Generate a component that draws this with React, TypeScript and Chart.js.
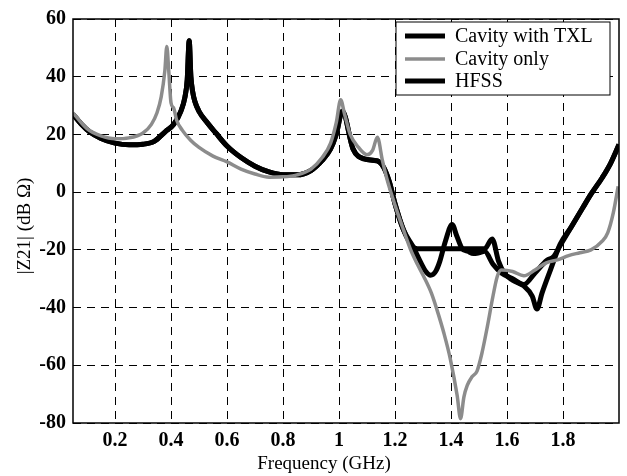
import React, { useEffect, useRef } from "react";
import { Chart, registerables } from "chart.js";

Chart.register(...registerables);

// ---- data ----
const xTicks = [0.2, 0.4, 0.6, 0.8, 1.0, 1.2, 1.4, 1.6, 1.8];
const yTicks = [-80, -60, -40, -20, 0, 20, 40, 60];

const freqTXL = [
  0.05, 0.08, 0.11, 0.15, 0.2, 0.25, 0.3, 0.34, 0.38, 0.41, 0.435, 0.45, 0.458, 0.465, 0.471, 0.477,
  0.485, 0.5, 0.53, 0.56, 0.6, 0.65, 0.7, 0.75, 0.8, 0.85, 0.9, 0.94, 0.97, 0.99, 1.012, 1.05, 1.09,
  1.137, 1.16, 1.18, 1.2, 1.23, 1.26, 1.28, 1.32, 1.36, 1.4, 1.44, 1.48, 1.52, 1.547, 1.57, 1.59,
  1.62, 1.66, 1.69, 1.707, 1.725, 1.755, 1.79, 1.83, 1.87, 1.9, 1.94, 1.97, 2.0,
];
const zTXL = [
  27, 23.5, 20.8, 18.6, 17, 16.4, 16.6, 17.6, 21, 23.5, 28, 33, 39, 52.5, 40, 35,
  31.5, 28, 24, 20.5, 16, 12, 9, 7, 6, 6, 7.5, 11, 15, 20, 28, 15, 11.5,
  10.8, 8.5, 3.5, -4, -13, -18.5, -19.6, -19.6, -19.6, -19.6, -19.6, -19.6, -19.6, -16.2, -24, -28,
  -30.5, -32.5, -36, -40.5, -35, -27, -18, -12, -5.5, -0.7, 5, 10, 16.5,
];

const freqCavity = [
  0.05, 0.1, 0.15, 0.2, 0.25, 0.3, 0.33, 0.35, 0.365, 0.378, 0.385, 0.392, 0.4, 0.41, 0.42, 0.44,
  0.47, 0.5, 0.55, 0.6, 0.65, 0.7, 0.75, 0.8, 0.85, 0.9, 0.94, 0.97, 0.99, 1.006, 1.02, 1.04, 1.07,
  1.1, 1.12, 1.137, 1.155, 1.17, 1.2, 1.23, 1.256, 1.28, 1.303, 1.33, 1.35, 1.375, 1.398, 1.422,
  1.434, 1.446, 1.458, 1.475, 1.493, 1.51, 1.53, 1.55, 1.565, 1.58, 1.62, 1.66, 1.7, 1.74, 1.78,
  1.82, 1.86, 1.9, 1.94, 1.96, 1.98, 1.997,
];
const zCavity = [
  27.5, 22, 19.5, 18.5, 18.8, 20.5, 23.5, 27.5, 33, 42, 50.5, 42, 31, 29, 25, 21.5,
  18, 15.5, 12.5, 10.5, 8, 6.3, 5.2, 5.3, 6, 8, 12, 17, 24, 32, 27, 20, 15.5,
  13, 14.5, 19, 11, 5, -4.5, -13, -20, -25, -29.3, -35, -40.8, -49, -58, -70.5,
  -78.5, -71, -67, -64, -62, -56, -46.5, -36, -29.3, -27, -27.5, -29, -27, -24.5, -23.5,
  -22, -21, -20, -17, -14, -7, 2,
];

const freqHFSS = [
  0.05, 0.08, 0.11, 0.15, 0.2, 0.25, 0.3, 0.34, 0.38, 0.41, 0.435, 0.45, 0.458, 0.465, 0.471, 0.477,
  0.485, 0.5, 0.53, 0.56, 0.6, 0.65, 0.7, 0.75, 0.8, 0.85, 0.9, 0.94, 0.97, 0.99, 1.012, 1.05, 1.09,
  1.137, 1.16, 1.18, 1.2, 1.23, 1.265, 1.29, 1.31, 1.327, 1.345, 1.36, 1.38, 1.404, 1.42, 1.44, 1.46,
  1.48, 1.5, 1.52, 1.55, 1.58, 1.62, 1.66, 1.7, 1.743, 1.765, 1.79, 1.83, 1.87, 1.9, 1.94, 1.97, 2.0,
];
const zHFSS = [
  27, 23.5, 20.8, 18.6, 17, 16.4, 16.6, 17.6, 21, 23.5, 28, 33, 39, 52.5, 40, 35,
  31.5, 28, 24, 20.5, 16, 12, 9, 7, 6, 6, 7.5, 11, 15, 20, 28, 15, 11.5,
  10.8, 8.5, 3.5, -4, -13, -19, -24, -27.5, -28.8, -27.5, -24, -17, -11.2, -15, -19.6, -20.5,
  -21.3, -21, -20.5, -25, -28, -30, -32, -28, -23.6, -22.5, -18.5, -12, -5.5, -0.7, 5, 10, 16.5,
];

const seriesLabels = ["Cavity with TXL", "Cavity only", "HFSS"];
const FONT = '"Liberation Serif", "Times New Roman", serif';

const toPts = (xs: number[], ys: number[]) => xs.map((x, i) => ({ x, y: ys[i] }));

const framePlugin = {
  id: "framePlugin",
  afterDraw(chart: any) {
    const { ctx, chartArea } = chart;
    const { left, right, top, bottom } = chartArea;
    ctx.save();
    ctx.setLineDash([]);
    ctx.strokeStyle = "#000";
    ctx.lineWidth = 1.5;
    ctx.strokeRect(left, top, right - left, bottom - top);

    // axis titles
    ctx.fillStyle = "#000";
    ctx.font = `19px ${FONT}`;
    ctx.textAlign = "center";
    ctx.textBaseline = "middle";
    ctx.fillText("Frequency (GHz)", 324, 464);
    ctx.save();
    ctx.translate(25, 226);
    ctx.rotate(-Math.PI / 2);
    ctx.fillText("|Z21| (dB Ω)", 0, 0);
    ctx.restore();

    // legend
    const lx = 396, ly = 22, lw = 214, lh = 73;
    ctx.fillStyle = "#fff";
    ctx.fillRect(lx, ly, lw, lh);
    ctx.strokeStyle = "#000";
    ctx.lineWidth = 1;
    ctx.strokeRect(lx, ly, lw, lh);
    const rows = [36, 59, 81];
    const cols = ["#000", "#8c8c8c", "#000"];
    const widths = [5, 3.5, 5];
    ctx.font = `20px ${FONT}`;
    ctx.textAlign = "left";
    ctx.textBaseline = "middle";
    rows.forEach((ry, i) => {
      ctx.beginPath();
      ctx.strokeStyle = cols[i];
      ctx.lineWidth = widths[i];
      ctx.moveTo(405, ry);
      ctx.lineTo(445, ry);
      ctx.stroke();
      ctx.fillStyle = "#000";
      ctx.fillText(seriesLabels[i], 455, ry + 1);
    });
    ctx.restore();
  },
};

export default function App() {
  const ref = useRef<HTMLCanvasElement | null>(null);
  useEffect(() => {
    if (!ref.current) return;
    const chart = new Chart(ref.current, {
      type: "line",
      data: {
        datasets: [
          {
            label: seriesLabels[1],
            data: toPts(freqCavity, zCavity),
            borderColor: "#8c8c8c",
            borderWidth: 3.5,
            pointRadius: 0,
            cubicInterpolationMode: "monotone",
            order: 1,
          },
          {
            label: seriesLabels[0],
            data: toPts(freqTXL, zTXL),
            borderColor: "#000",
            borderWidth: 5,
            pointRadius: 0,
            cubicInterpolationMode: "monotone",
            order: 2,
          },
          {
            label: seriesLabels[2],
            data: toPts(freqHFSS, zHFSS),
            borderColor: "#000",
            borderWidth: 5,
            pointRadius: 0,
            cubicInterpolationMode: "monotone",
            order: 3,
          },
        ],
      },
      options: {
        responsive: false,
        animation: false,
        layout: { padding: { left: 0, right: 8, top: 16, bottom: 0 } },
        plugins: { legend: { display: false }, tooltip: { enabled: false } },
        scales: {
          x: {
            type: "linear",
            min: 0.05,
            max: 2.0,
            afterBuildTicks: (s: any) => {
              s.ticks = xTicks.map((v) => ({ value: v }));
            },
            afterFit: (s: any) => {
              s.height = 53;
            },
            grid: { color: "#000", lineWidth: 1, drawTicks: false },
            border: { display: false, dash: [8, 6] },
            ticks: {
              color: "#000",
              padding: 6,
              font: { family: FONT, size: 20, weight: "bold" },
              callback: (v: any) => String(Math.round(Number(v) * 10) / 10),
            },
          },
          y: {
            type: "linear",
            min: -80,
            max: 60,
            afterBuildTicks: (s: any) => {
              s.ticks = yTicks.map((v) => ({ value: v }));
            },
            afterFit: (s: any) => {
              s.width = 73;
            },
            grid: { color: "#000", lineWidth: 1, drawTicks: false },
            border: { display: false, dash: [8, 6] },
            ticks: {
              color: "#000",
              padding: 7,
              font: { family: FONT, size: 20, weight: "bold" },
            },
          },
        },
      },
      plugins: [framePlugin],
    } as any);
    return () => chart.destroy();
  }, []);
  return (
    <div style={{ position: "fixed", left: 0, top: 0, width: 627, height: 476, background: "#fff" }}>
      <canvas ref={ref} width={627} height={476} />
    </div>
  );
}
